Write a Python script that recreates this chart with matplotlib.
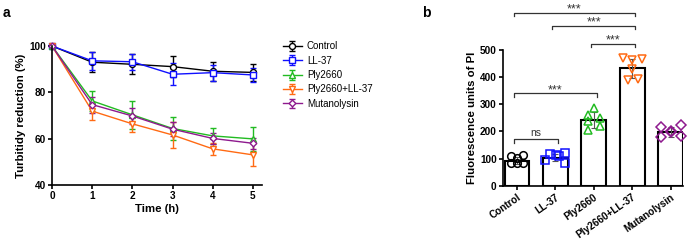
"""
Turbidity reduction time course (a) and PI fluorescence per treatment (b).
"""

import matplotlib.pyplot as plt
import matplotlib
import numpy as np

matplotlib.rcParams['font.family'] = 'Liberation Sans'
matplotlib.rcParams['axes.linewidth'] = 1.2
matplotlib.rcParams['xtick.major.width'] = 1.2
matplotlib.rcParams['ytick.major.width'] = 1.2

# ---- panel a data ----
time_h = [0, 1, 2, 3, 4, 5]
series_names = ['Control', 'LL-37', 'Ply2660', 'Ply2660+LL-37', 'Mutanolysin']
control_mean = [100, 93.0, 92.1, 91.1, 89.1, 88.6]
control_sd = [0, 4.3, 4.3, 4.6, 4.0, 3.8]
ll37_mean = [100, 93.6, 93.2, 87.8, 88.5, 87.5]
ll37_sd = [0, 4.0, 3.5, 4.8, 3.5, 3.0]
ply_mean = [100, 76.3, 70.3, 64.4, 61.2, 59.9]
ply_sd = [0, 4.4, 6.0, 4.8, 3.5, 5.3]
combo_mean = [100, 71.9, 66.4, 61.6, 55.6, 53.0]
combo_sd = [0, 4.0, 3.7, 5.5, 2.5, 5.0]
muta_mean = [100, 74.7, 69.8, 64.1, 60.1, 58.0]
muta_sd = [0, 3.5, 3.5, 3.0, 2.5, 2.5]

# ---- panel b data ----
groups = ['Control', 'LL-37', 'Ply2660', 'Ply2660+LL-37', 'Mutanolysin']
bar_mean = [92, 103, 242, 432, 199]
bar_sd = [12, 12, 30, 36, 18]
pts_control = [110, 103, 113, 82, 83, 82]
pts_ll37 = [96, 116, 112, 108, 119, 85]
pts_ply = [286, 262, 250, 240, 219, 206]
pts_combo = [471, 468, 463, 431, 391, 393]
pts_muta = [215, 225, 200, 178, 183, 198]

# horizontal spread of the dots within each bar
spread_control = [-0.16, 0, 0.16, -0.16, 0, 0.16]
spread_ll37 = [-0.26, -0.14, 0.02, 0.1, 0.26, 0.26]
spread_ply = [0, -0.14, 0.15, -0.14, 0.15, -0.14]
spread_combo = [-0.25, 0.26, 0, 0, -0.12, 0.15]
spread_muta = [-0.24, 0.26, 0, -0.24, 0.26, 0]

# significance brackets: (group i, group j, y level, label)
brackets = [(0, 3, 637, '***'), (1, 3, 588, '***'), (2, 3, 522, '***'),
            (0, 2, 340, '***'), (0, 1, 171, 'ns')]

colors = ['#000000', '#1010ff', '#22bb22', '#ff6a13', '#8e1a8e']
markers = ['o', 's', '^', 'v', 'D']

fig = plt.figure(figsize=(6.98, 2.43), dpi=100)

# ============================================================
# Panel a
# ============================================================
ax1 = fig.add_axes([0.0745, 0.2387, 0.3005, 0.572])
means = [control_mean, ll37_mean, ply_mean, combo_mean, muta_mean]
sds = [control_sd, ll37_sd, ply_sd, combo_sd, muta_sd]
for name, m, s, c, mk in zip(series_names, means, sds, colors, markers):
    ax1.errorbar(time_h, m, yerr=s, color=c, marker=mk, markersize=4.3 if mk != 'D' else 3.4,
                 markerfacecolor='white', markeredgewidth=1.0, linewidth=1.0,
                 elinewidth=1.0, capsize=2.2, capthick=1.0, label=name, clip_on=False)
ax1.set_xlim(0, 5.22)
ax1.set_ylim(40, 100)
ax1.set_xticks(range(6))
ax1.set_yticks([40, 60, 80, 100])
ax1.spines['top'].set_visible(False)
ax1.spines['right'].set_visible(False)
ax1.tick_params(labelsize=7.2, length=3, pad=1.5)
for lab in ax1.get_xticklabels() + ax1.get_yticklabels():
    lab.set_fontweight('bold')
ax1.set_xlabel('Time (h)', fontsize=8.2, fontweight='bold', labelpad=2)
ax1.set_ylabel('Turbitidy reduction (%)', fontsize=8.2, fontweight='bold', labelpad=2)
ax1.legend(loc='upper left', bbox_to_anchor=(0.405, 0.83), bbox_transform=fig.transFigure,
           frameon=False, fontsize=7, handlelength=2.0, handletextpad=0.5,
           labelspacing=0.45, borderpad=0, borderaxespad=0)
fig.text(0.004, 0.975, 'a', fontsize=10, fontweight='bold', va='top')

# ============================================================
# Panel b
# ============================================================
ax2 = fig.add_axes([0.7206, 0.2358, 0.2579, 0.5584])
x = np.arange(len(groups))
ax2.bar(x, bar_mean, width=0.64, color='white', edgecolor='black', linewidth=1.5, zorder=2)
ax2.errorbar(x, bar_mean, yerr=bar_sd, fmt='none', ecolor='#555555', elinewidth=0.8,
             capsize=2.5, capthick=0.8, zorder=3)
all_pts = [pts_control, pts_ll37, pts_ply, pts_combo, pts_muta]
all_spread = [spread_control, spread_ll37, spread_ply, spread_combo, spread_muta]
for i, (pts, sp, c, mk) in enumerate(zip(all_pts, all_spread, colors, markers)):
    ax2.plot(i + np.array(sp), pts, linestyle='none', marker=mk,
             markersize=5.5 if mk != 'D' else 4.6, markerfacecolor='none',
             markeredgecolor=c, markeredgewidth=1.1, zorder=4, clip_on=False)
ax2.set_xlim(-0.36, 4.32)
ax2.set_ylim(0, 500)
ax2.set_yticks(range(0, 501, 100))
ax2.set_xticks(x)
ax2.set_xticklabels(groups, rotation=35, ha='right', rotation_mode='anchor')
ax2.spines['top'].set_visible(False)
ax2.spines['right'].set_visible(False)
ax2.tick_params(axis='y', labelsize=7.2, length=3, pad=1.5)
ax2.tick_params(axis='x', labelsize=7.2, length=3, pad=1.5)
for lab in ax2.get_xticklabels() + ax2.get_yticklabels():
    lab.set_fontweight('bold')
ax2.set_ylabel('Fluorescence units of PI', fontsize=8.2, fontweight='bold', labelpad=2)

for i, j, yb, txt in brackets:
    drop = 12
    ax2.plot([i - 0.08, i - 0.08, j + 0.08, j + 0.08], [yb - drop, yb, yb, yb - drop],
             color='#333333', linewidth=0.9, clip_on=False)
    if txt == 'ns':
        ax2.text((i + j) / 2, yb + 4, txt, ha='center', va='bottom',
                 fontsize=7.5, color='#333333', clip_on=False)
    else:
        ax2.text((i + j) / 2, yb - 10, txt, ha='center', va='bottom',
                 fontsize=9, color='#333333', clip_on=False)
fig.text(0.605, 0.975, 'b', fontsize=10, fontweight='bold', va='top')

plt.savefig('out.png', dpi=100)
plt.close()
